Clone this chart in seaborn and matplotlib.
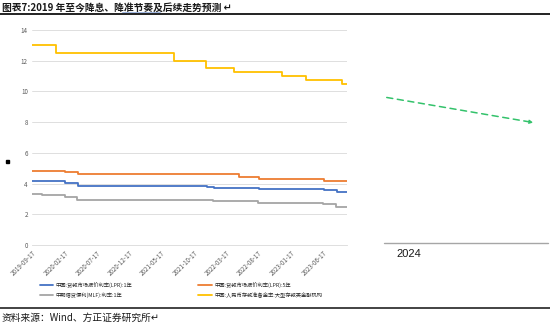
import matplotlib
matplotlib.use("Agg")
import matplotlib.pyplot as plt
import seaborn as sns
import pandas as pd
import numpy as np
from matplotlib.patches import FancyArrowPatch, Rectangle
from matplotlib.lines import Line2D

# ---------------- data ----------------
end_date = "2023-10-08"

lpr1_dates = ["2019-09-17", "2019-11-20", "2020-02-20", "2020-04-20", "2021-12-20", "2022-01-20", "2022-08-22", "2023-06-20", "2023-08-21"]
lpr1_vals = [4.20, 4.15, 4.05, 3.85, 3.80, 3.70, 3.65, 3.55, 3.45]

lpr5_dates = ["2019-09-17", "2019-11-20", "2020-02-20", "2020-04-20", "2022-01-20", "2022-05-20", "2022-08-22", "2023-06-20"]
lpr5_vals = [4.85, 4.80, 4.75, 4.65, 4.60, 4.45, 4.30, 4.20]

mlf_dates = ["2019-09-17", "2019-11-05", "2020-02-17", "2020-04-15", "2022-01-17", "2022-08-15", "2023-06-15", "2023-08-15"]
mlf_vals = [3.30, 3.25, 3.15, 2.95, 2.85, 2.75, 2.65, 2.50]

rrr_dates = ["2019-09-17", "2020-01-06", "2021-07-15", "2021-12-15", "2022-04-25", "2022-12-05", "2023-03-27", "2023-09-15"]
rrr_vals = [13.0, 12.5, 12.0, 11.5, 11.25, 11.0, 10.75, 10.5]

series_names = [
    "中国:贷款市场报价利率(LPR):1年",
    "中国:贷款市场报价利率(LPR):5年",
    "中期借贷便利(MLF):利率:1年",
    "中国:人民币存款准备金率:大型存款类金融机构",
]
tick_labels = ["2019-09-17", "2020-02-17", "2020-07-17", "2020-12-17", "2021-05-17",
               "2021-10-17", "2022-03-17", "2022-08-17", "2023-01-17", "2023-06-17"]
y_ticks = [0, 2, 4, 6, 8, 10, 12, 14]
forecast_label = "2024"

colors = ["#4472C4", "#ED7D31", "#A5A5A5", "#FFC000"]

# ---------------- build frame ----------------
frames = []
for name, d, v in zip(series_names, [lpr1_dates, lpr5_dates, mlf_dates, rrr_dates],
                      [lpr1_vals, lpr5_vals, mlf_vals, rrr_vals]):
    dd = list(pd.to_datetime(d)) + [pd.to_datetime(end_date)]
    vv = list(v) + [v[-1]]
    frames.append(pd.DataFrame({"date": dd, "value": vv, "series": name}))
df = pd.concat(frames, ignore_index=True)

# ---------------- figure ----------------
sns.set_theme(style="white")
plt.rcParams["font.family"] = ["Noto Sans CJK SC", "DejaVu Sans"]

W, H = 550, 323
fig = plt.figure(figsize=(5.5, 3.23), dpi=100)

def fx(px):
    return px / W

def fy(py):
    return 1 - py / H

ax = fig.add_axes([fx(32), fy(245), fx(347) - fx(32), fy(30) - fy(245)])

sns.lineplot(data=df, x="date", y="value", hue="series", hue_order=series_names,
             palette=colors, estimator=None, drawstyle="steps-post",
             linewidth=1.3, ax=ax, legend=False)

ax.set_xlim(pd.to_datetime("2019-09-17"), pd.to_datetime(end_date))
ax.set_ylim(0, 14)
ax.set_yticks(y_ticks)
ax.set_yticklabels([str(t) for t in y_ticks], fontsize=4.5, color="#595959")
ax.set_xticks(pd.to_datetime(tick_labels))
ax.set_xticklabels(tick_labels, rotation=45, ha="right", rotation_mode="anchor",
                   fontsize=4.5, color="#595959")
ax.tick_params(axis="both", length=0, pad=3)
ax.grid(axis="y", color="#D9D9D9", linewidth=0.6)
ax.set_axisbelow(True)
for s in ["top", "right", "left"]:
    ax.spines[s].set_visible(False)
ax.spines["bottom"].set_color("#D9D9D9")
ax.spines["bottom"].set_linewidth(0.6)
ax.set_xlabel("")
ax.set_ylabel("")

# legend (two columns: row1 = LPR1Y, LPR5Y; row2 = MLF, RRR)
handles = [Line2D([0], [0], color=c, linewidth=1.3) for c in colors]
leg_order = [0, 2, 1, 3]
fig.legend([handles[i] for i in leg_order], [series_names[i] for i in leg_order],
           ncol=2, loc="upper left", bbox_to_anchor=(fx(37), fy(279)),
           frameon=False, fontsize=3.8, handlelength=2.6, handletextpad=0.4,
           columnspacing=12.5, labelspacing=0.9, borderpad=0)

# forecast region
arrow = FancyArrowPatch((fx(384), fy(97)), (fx(536), fy(123)), transform=fig.transFigure,
                        arrowstyle="-|>", mutation_scale=5, linestyle=(0, (4, 3)),
                        color="#33C26B", linewidth=1.1)
fig.add_artist(arrow)
fig.add_artist(Line2D([fx(384), fx(548)], [fy(243), fy(243)], transform=fig.transFigure,
                      color="#A6A6A6", linewidth=1.0))
fig.text(fx(396), fy(254), forecast_label, fontsize=8, color="#1a1a1a",
         ha="left", va="center", family=["Liberation Sans", "DejaVu Sans"])

# small marker on the left
fig.add_artist(Rectangle((fx(5.5), fy(162.5)), fx(3), fy(0) - fy(3), transform=fig.transFigure,
                         color="black"))

# title and decorations
fig.text(fx(2), fy(8), "图表7:2019 年至今降息、降准节奏及后续走势预测 ↵", fontsize=7,
         color="#1a1a1a", ha="left", va="center", fontweight="bold")
fig.add_artist(Line2D([0, 1], [fy(14), fy(14)], transform=fig.transFigure,
                      color="#222222", linewidth=1.4))
fig.add_artist(Line2D([fx(122), fx(160)], [fy(12.3), fy(12.3)], transform=fig.transFigure,
                      color="#8EA9DB", linewidth=0.6))
fig.add_artist(Line2D([0, 1], [fy(308), fy(308)], transform=fig.transFigure,
                      color="#222222", linewidth=1.2))
fig.text(fx(2), fy(318), "资料来源：Wind、方正证券研究所↵", fontsize=7, color="#1a1a1a",
         ha="left", va="center", style="italic")

fig.savefig("out.png", dpi=100)
